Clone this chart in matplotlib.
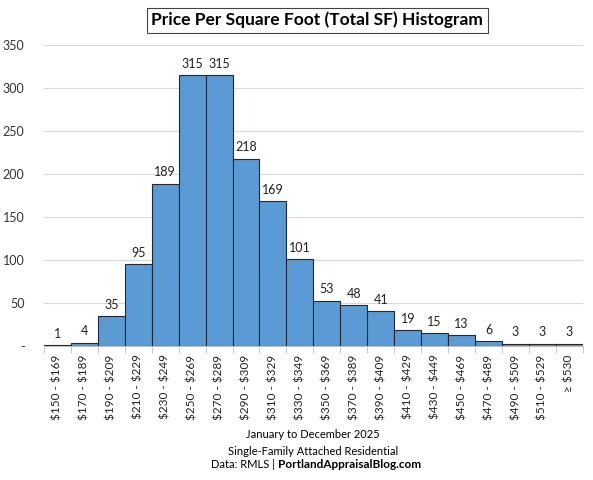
import matplotlib.pyplot as plt
import numpy as np

# ---- Data ----
bins = ["$150 - $169", "$170 - $189", "$190 - $209", "$210 - $229", "$230 - $249",
        "$250 - $269", "$270 - $289", "$290 - $309", "$310 - $329", "$330 - $349",
        "$350 - $369", "$370 - $389", "$390 - $409", "$410 - $429", "$430 - $449",
        "$450 - $469", "$470 - $489", "$490 - $509", "$510 - $529", "\u2265 $530"]
counts = [1, 4, 35, 95, 189, 315, 315, 218, 169, 101, 53, 48, 41, 19, 15, 13, 6, 3, 3, 3]
yticks = [0, 50, 100, 150, 200, 250, 300, 350]

plt.rcParams['font.family'] = ['Lato', 'DejaVu Sans']

fig = plt.figure(figsize=(5.93, 4.8), dpi=100)
ax = fig.add_axes([0.074, 0.279, 0.909, 0.627])

x = np.arange(len(counts))
ax.bar(x, counts, width=1.0, color='#5B9BD5', edgecolor='#1F2A36', linewidth=0.8, zorder=3)

for xi, c in zip(x, counts):
    ax.text(xi, c + 6, str(c), ha='center', va='bottom', fontsize=9, color='#222222')

ax.set_xlim(-0.5, len(counts) - 0.5)
ax.set_ylim(0, 350)
ax.set_yticks(yticks)
ax.set_yticklabels(['-' if v == 0 else str(v) for v in yticks], fontsize=9, color='#333333')
ax.tick_params(axis='y', length=0, pad=14)
ax.grid(axis='y', color='#D9D9D9', linewidth=0.8, zorder=0)

ax.set_xticks(x)
ax.set_xticklabels([b.replace('$', r'\$') for b in bins], rotation=90, fontsize=8.5, color='#222222')
ax.set_xticks(np.arange(len(counts) + 1) - 0.5, minor=True)
ax.tick_params(axis='x', which='major', length=0, pad=6)
ax.tick_params(axis='x', which='minor', length=5, color='#BFBFBF')

for s in ['top', 'right', 'left']:
    ax.spines[s].set_visible(False)
ax.spines['bottom'].set_color('#BFBFBF')

fig.text(0.535, 0.958, "Price Per Square Foot (Total SF) Histogram", ha='center', va='center',
         fontsize=12.5, fontweight='bold',
         bbox=dict(boxstyle='square,pad=0.25', facecolor='white', edgecolor='#444444', linewidth=0.8))

fig.text(0.528, 0.094, "January to December 2025", ha='center', va='center', fontsize=8)
fig.text(0.528, 0.059, "Single-Family Attached Residential", ha='center', va='center', fontsize=8)
fig.text(0.468, 0.033, "Data: RMLS | ", ha='right', va='center', fontsize=8)
fig.text(0.468, 0.033, "PortlandAppraisalBlog.com", ha='left', va='center', fontsize=8.5, fontweight='bold')

fig.savefig("out.png", dpi=100)
